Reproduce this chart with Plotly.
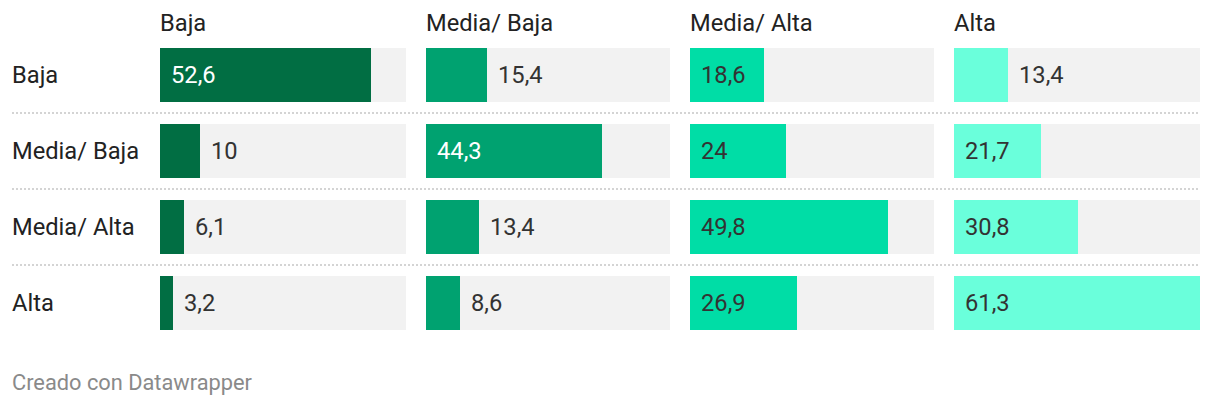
import plotly.graph_objects as go

columns = ["Baja", "Media/ Baja", "Media/ Alta", "Alta"]
rows = ["Baja", "Media/ Baja", "Media/ Alta", "Alta"]
# values per column, one entry per row
val_baja = [52.6, 10, 6.1, 3.2]
val_media_baja = [15.4, 44.3, 13.4, 8.6]
val_media_alta = [18.6, 24, 49.8, 26.9]
val_alta = [13.4, 21.7, 30.8, 61.3]
series = [val_baja, val_media_baja, val_media_alta, val_alta]

colors = ["#016e43", "#00a270", "#00dda6", "#6affdb"]
label_inside_colors = ["#ffffff", "#ffffff", "#333333", "#333333"]

OFF = 8  # page body margin
W, H = 1220 - 2 * OFF, 406 - 2 * OFF
vmax = max(max(s) for s in series)
col_px = [(160, 406), (426, 670), (690, 934), (954, 1200)]
top_px, bot_px = 37, 341

def px_x(p):
    return (p - OFF) / W

def px_y(p):
    return 1 - (p - OFF) / H

fig = go.Figure()
FONT = "Roboto, Arial, sans-serif"
FS = 23.7

def fmt(v):
    if float(v).is_integer():
        return str(int(v))
    return ("%g" % v).replace(".", ",")

annotations = []
for j, vals in enumerate(series):
    ax = "" if j == 0 else str(j + 1)
    xa = "x" + ax
    ya = "y" + ax
    ypos = list(range(len(rows)))
    fig.add_trace(go.Bar(x=[vmax] * len(rows), y=ypos, orientation="h",
                         marker=dict(color="#f2f2f2", line=dict(width=0)),
                         width=54 / 76, xaxis=xa, yaxis=ya, hoverinfo="skip",
                         showlegend=False))
    fig.add_trace(go.Bar(x=vals, y=ypos, orientation="h",
                         marker=dict(color=colors[j], line=dict(width=0)),
                         width=54 / 76, xaxis=xa, yaxis=ya,
                         showlegend=False))
    for i, v in enumerate(vals):
        inside = v > 17
        annotations.append(dict(
            x=0 if inside else v, y=i, xref=xa, yref=ya,
            text=fmt(v), showarrow=False, xanchor="left", yanchor="middle",
            xshift=9,
            font=dict(family=FONT, size=FS,
                      color=label_inside_colors[j] if inside else "#333333")))
    x0, x1 = col_px[j]
    fig.layout["xaxis" + ax] = dict(domain=[px_x(x0), px_x(x1)], range=[0, vmax],
                                    visible=False, fixedrange=True, anchor=ya)
    fig.layout["yaxis" + ax] = dict(domain=[px_y(bot_px), px_y(top_px)],
                                    range=[len(rows) - 0.5, -0.5], visible=False,
                                    fixedrange=True, anchor=xa)
    annotations.append(dict(x=px_x(x0), y=px_y(23), xref="paper", yref="paper",
                            text=columns[j], showarrow=False, xanchor="left",
                            yanchor="middle", xshift=-2,
                            font=dict(family=FONT, size=FS, color="#222222")))

for i, r in enumerate(rows):
    annotations.append(dict(x=px_x(12), y=i, xref="paper", yref="y", text=r,
                            showarrow=False, xanchor="left", yanchor="middle",
                            xshift=-2,
                            font=dict(family=FONT, size=FS, color="#222222")))

shapes = []
for i in range(len(rows) - 1):
    shapes.append(dict(type="line", xref="paper", yref="y",
                       x0=px_x(12), x1=px_x(1200),
                       y0=i + 0.5, y1=i + 0.5,
                       line=dict(color="#d4d4d4", width=2, dash="2px,2px")))

annotations.append(dict(x=px_x(12), y=px_y(382), xref="paper", yref="paper",
                        text="Creado con Datawrapper", showarrow=False,
                        xanchor="left", yanchor="middle", xshift=-2,
                        font=dict(family=FONT, size=21.8, color="#8a8a8a")))

fig.update_layout(width=W, height=H, margin=dict(l=0, r=0, t=0, b=0),
                  paper_bgcolor="white", plot_bgcolor="white",
                  barmode="overlay", annotations=annotations, shapes=shapes,
                  bargap=0)
fig.write_html("out.html", config={"displayModeBar": False})
